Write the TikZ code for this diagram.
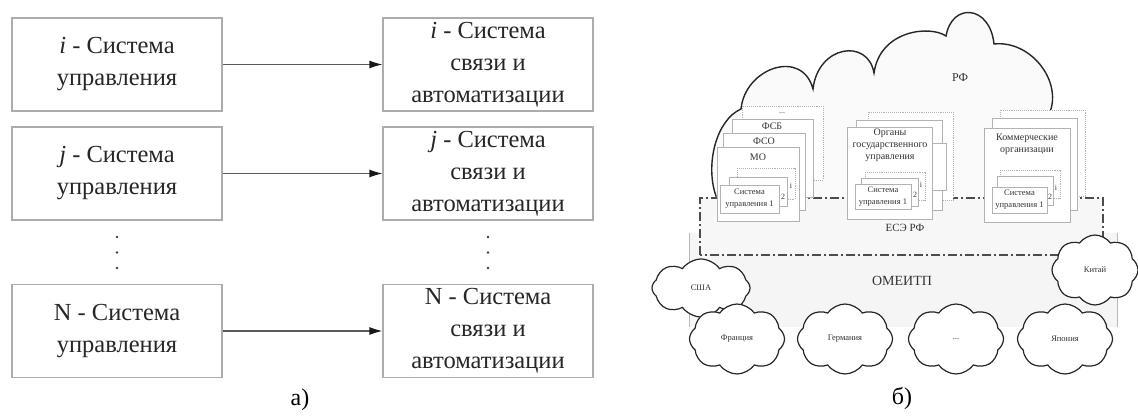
\documentclass[tikz,border=0pt]{standalone}
\usepackage{fontspec}
\setmainfont{Liberation Serif}
\usetikzlibrary{arrows.meta,shapes.symbols}

\tikzset{
  sysbox/.style={draw=gray!65, line width=1.2, fill=white, minimum width=210, minimum height=93, inner sep=0, align=center, text=black!85, font=\fontsize{24.5}{32}\selectfont},
  link/.style={draw=gray!70!black, line width=1.2, -{Latex[length=13,width=8,color=black!90]}},
  orgbox/.style={draw=gray!60, line width=0.9, fill=white},
  dotbox/.style={draw=gray!60, line width=0.9, densely dotted, fill=white},
  orglabel/.style={inner sep=0, align=center, text=black!80, font=\fontsize{10}{12}\selectfont},
  sulabel/.style={inner sep=0, align=center, text=black!80, font=\fontsize{8.5}{12}\selectfont},
  numlabel/.style={inner sep=0, text=black!80, font=\fontsize{8}{8}\selectfont},
  country/.style={cloud, cloud puffs=8, cloud puff arc=110, aspect=1.4, draw=black!85, line width=1.2, fill=white, inner sep=0, text=black!80, font=\fontsize{8.5}{9}\selectfont},
  caption/.style={inner sep=0, font=\fontsize{24}{28}\selectfont}
}

\begin{document}
\begin{tikzpicture}[x=1pt,y=1pt,yscale=-1]
    \useasboundingbox (0,0) rectangle (1138,417);

    %Shape: Rectangle (a) - systems
    \node[sysbox] (cu1) at (117,64.5) {\textit{i} - Система\\управления};
    \node[sysbox] (cu2) at (117,173.5) {\textit{j} - Система\\управления};
    \node[sysbox] (cuN) at (117,331) {N - Система\\управления};
    \node[sysbox] (cs1) at (488,64.5) {\textit{i} - Система\\связи и\\автоматизации};
    \node[sysbox] (cs2) at (488,173.5) {\textit{j} - Система\\связи и\\автоматизации};
    \node[sysbox] (csN) at (488,331) {N - Система\\связи и\\автоматизации};
    \draw[link] (cu1) -- (cs1);
    \draw[link] (cu2) -- (cs2);
    \draw[link] (cuN) -- (csN);
    %Shape: dots
    \foreach \y in {237,252.5,268} {
      \fill[gray!50!black] (117,\y) circle (1.4);
      \fill[gray!50!black] (488,\y) circle (1.4);
    }
    % Text Node
    \node[caption] (capa) at (300,400) {а)};

    %Shape: Cloud RF
    \draw[draw=black!85, line width=1.4, fill=gray!4] (716,205) -- (716,196) .. controls (705,165) and (716,120) .. (741,109) .. controls (745,68) and (802,48) .. (813,89) .. controls (818,45) and (868,38) .. (874,73) .. controls (880,30) and (930,25) .. (946,36) .. controls (952,2) and (990,5) .. (994,44) .. controls (1030,40) and (1062,80) .. (1050,112) -- (1050,205) -- cycle;
    %Shape: Rectangle OMEITP
    \fill[gray!8] (689,233) rectangle (1117,327);
    \draw[gray!55, line width=0.8] (689,233) -- (689,327) (1117,233) -- (1117,327);
    %Shape: Rectangle ESE
    \fill[gray!6] (700,198) rectangle (1103,255);
    \draw[gray!60!black, line width=1.3, dash pattern=on 9 off 3 on 2 off 3] (700,255) -- (700,198) -- (1103,198) -- (1103,255) -- cycle;

    %Shape: group 1
    \draw[dotbox] (742,106) rectangle (823,180);
    \draw[orgbox] (732,119) rectangle (813,197);
    \draw[orgbox] (723,133) rectangle (805,210);
    \draw[orgbox] (717,147) rectangle (799,221);
    \draw[dotbox] (737,168) rectangle (795,199);
    \draw[orgbox] (729,177) rectangle (787,206);
    \draw[orgbox] (720,185) rectangle (779,213);
    % Text Node
    \node[numlabel] (dots1) at (782,113) {...};
    \node[orglabel] (fsb) at (772,126) {ФСБ};
    \node[orglabel] (fso) at (764,141) {ФСО};
    \node[orglabel] (mo) at (758,157) {МО};
    \node[sulabel] (su1) at (749.5,199) {Система\\управления 1};
    \node[numlabel] (su1b) at (783,197) {2};
    \node[numlabel] (su1c) at (791,186) {i};

    %Shape: group 2
    \draw[dotbox] (868,112) rectangle (953,200);
    \draw[orgbox] (856,120) rectangle (942,210);
    \draw[orgbox] (920,143) rectangle (946,190);
    \draw[orgbox] (847,127) rectangle (932,219);
    \draw[dotbox] (865,172) rectangle (925,200);
    \draw[orgbox] (861,178) rectangle (918,206);
    \draw[orgbox] (855,184) rectangle (911,209);
    % Text Node
    \node[orglabel] (gov) at (890,145) {Органы\\государственного\\управления};
    \node[sulabel] (su2) at (883,197) {Система\\управления 1};
    \node[numlabel] (su2b) at (915,195) {2};
    \node[numlabel] (su2c) at (921,185) {i};

    %Shape: group 3
    \draw[dotbox] (1000,110) rectangle (1085,196);
    \draw[orgbox] (992,118) rectangle (1077,210);
    \draw[orgbox] (984,128) rectangle (1070,222);
    \draw[dotbox] (1000,170) rectangle (1060,198);
    \draw[orgbox] (997,176) rectangle (1053,205);
    \draw[orgbox] (992,187) rectangle (1047,213);
    % Text Node
    \node[orglabel] (com) at (1027,144) {Коммерческие\\организации};
    \node[sulabel] (su3) at (1019.5,200) {Система\\управления 1};
    \node[numlabel] (su3b) at (1050,197) {2};
    \node[numlabel] (su3c) at (1056,188) {i};

    % Text Node
    \node[inner sep=0, text=black!80, font=\fontsize{12}{12}\selectfont] (rf) at (960,78) {РФ};
    \node[inner sep=0, text=black!80, font=\fontsize{11}{11}\selectfont] (ese) at (905,228) {ЕСЭ РФ};
    \node[inner sep=0, text=black!80, font=\fontsize{14}{14}\selectfont] (omeitp) at (902,281) {ОМЕИТП};

    %Shape: Cloud countries
    \node[country, minimum width=98, minimum height=58] (usa) at (701,288) {США};
    \node[country, minimum width=86, minimum height=70] (china) at (1095,270) {Китай};
    \node[country, minimum width=95, minimum height=70] (france) at (737,339) {Франция};
    \node[country, minimum width=95, minimum height=70] (germany) at (845,339) {Германия};
    \node[country, minimum width=95, minimum height=70] (etc) at (956,339) {...};
    \node[country, minimum width=95, minimum height=70] (japan) at (1065,339) {Япония};

    % Text Node
    \node[caption] (capb) at (902,398) {б)};
\end{tikzpicture}
\end{document}
